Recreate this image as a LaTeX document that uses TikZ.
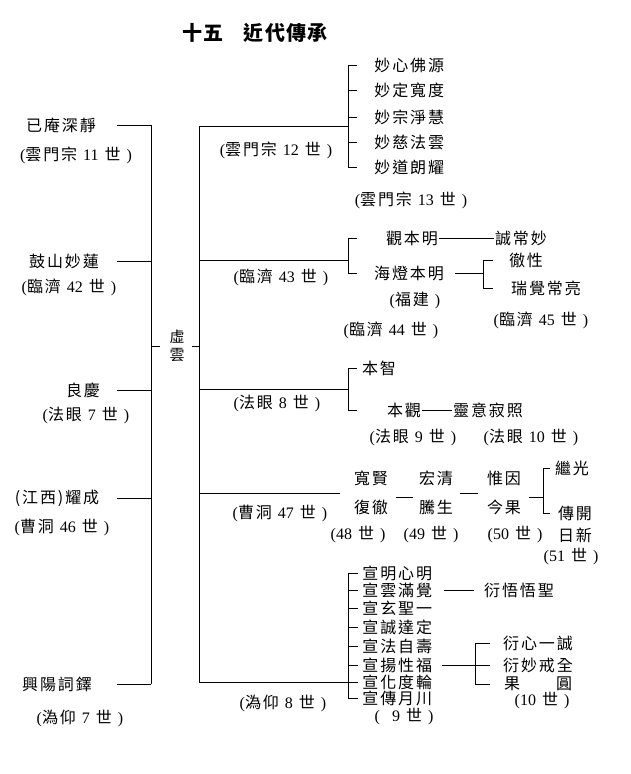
\documentclass[tikz,border=0pt]{standalone}
\usepackage{fontspec}
\setmainfont{Liberation Serif}
\newfontfamily\cjk{Noto Sans CJK TC}[LetterSpace=12]
\newfontfamily\cjt{Noto Sans CJK TC}[LetterSpace=6]
\newcommand\nm{\fontsize{16}{17}\selectfont\cjk}
\newcommand\sm{\fontsize{16}{18}\selectfont\spaceskip=6pt\relax}

\begin{document}
\begin{tikzpicture}[x=1pt, y=-1pt, line width=.7pt,
  nm/.style={font=\nm, inner sep=1pt},
  gn/.style={font=\sm, inner sep=1pt}]
\useasboundingbox (0,0) rectangle (630,774);
\node[font=\fontsize{20}{22}\selectfont\cjt\bfseries, inner sep=1pt] (title) at (255,33) {十五\hspace{20pt}近代傳承};

\coordinate (la) at (117,0);
\coordinate (lb) at (151,0);
\coordinate (lc) at (160,0);
\coordinate (rc) at (192,0);
\coordinate (rb) at (199,0);
\coordinate (t1) at (357,0);

\node[nm] (l1) at (61,125) {已庵深靜};
\node[gn] (g1) at (76,155) {({\cjk 雲門宗} 11 {\cjk 世} )};
\node[nm] (l2) at (64,261) {鼓山妙蓮};
\node[gn] (g2) at (69,287) {({\cjk 臨濟} 42 {\cjk 世} )};
\node[nm] (l3) at (83,390) {良慶};
\node[gn] (g3) at (86,415) {({\cjk 法眼} 7 {\cjk 世} )};
\node[nm] (l4) at (57,498) {(江西)耀成};
\node[gn] (g4) at (62,527) {({\cjk 曹洞} 46 {\cjk 世} )};
\node[nm] (l5) at (57,684) {興陽詞鐸};
\node[gn] (g5) at (80,718) {({\cjk 溈仰} 7 {\cjk 世} )};
\node[font=\fontsize{15}{18}\selectfont\cjk, align=center, inner sep=1pt] (x) at (177,346) {虛\\雲};

\draw (l1 -| la) -- (l1 -| lb);
\draw (l2 -| la) -- (l2 -| lb);
\draw (l3 -| la) -- (l3 -| lb);
\draw (l4 -| la) -- (l4 -| lb);
\draw (l5 -| la) -- (l5 -| lb);
\draw (l1 -| lb) -- (l5 -| lb);
\draw (x -| lb) -- (x -| lc);
\draw (x -| rc) -- (x -| rb);

\coordinate (b1) at (348,126);
\node[nm, anchor=west] (m1) at (373,65) {妙心佛源};
\node[nm, anchor=west] (m2) at (373,90) {妙定寬度};
\node[nm, anchor=west] (m3) at (373,117) {妙宗淨慧};
\node[nm, anchor=west] (m4) at (373,142) {妙慈法雲};
\node[nm, anchor=west] (m5) at (373,167) {妙道朗耀};
\node[gn] (g6) at (276,150) {({\cjk 雲門宗} 12 {\cjk 世} )};
\node[gn] (g7) at (411,200) {({\cjk 雲門宗} 13 {\cjk 世} )};
\draw (b1 -| rb) -- (b1);
\draw (m1 -| b1) -- (m5 -| b1);
\draw (m1 -| b1) -- (m1 -| t1);
\draw (m2 -| b1) -- (m2 -| t1);
\draw (m3 -| b1) -- (m3 -| t1);
\draw (m4 -| b1) -- (m4 -| t1);
\draw (m5 -| b1) -- (m5 -| t1);

\coordinate (b2) at (348,260);
\coordinate (c2) at (483,0);
\coordinate (c2t) at (493,0);
\node[nm] (k1) at (412,238) {觀本明};
\node[nm] (k2) at (409,273) {海燈本明};
\node[nm] (k3) at (521,238) {誠常妙};
\node[nm] (k4) at (526,260) {徹性};
\node[nm] (k5) at (546,288) {瑞覺常亮};
\node[gn] (g8) at (281,277) {({\cjk 臨濟} 43 {\cjk 世} )};
\node[gn] (g9) at (415,300) {({\cjk 福建} )};
\node[gn] (g10) at (391,330) {({\cjk 臨濟} 44 {\cjk 世} )};
\node[gn] (g11) at (541,320) {({\cjk 臨濟} 45 {\cjk 世} )};
\draw (b2 -| rb) -- (b2);
\draw (k1 -| b2) -- (k2 -| b2);
\draw (k1 -| b2) -- (k1 -| t1);
\draw (k2 -| b2) -- (k2 -| t1);
\draw (k1) -- (k3);
\draw[shorten <=10pt] (k2) -- (k2 -| c2);
\draw (k4 -| c2) -- (k5 -| c2);
\draw (k4 -| c2) -- (k4 -| c2t);
\draw (k5 -| c2) -- (k5 -| c2t);

\coordinate (b3) at (348,389);
\node[nm] (p1) at (379,368) {本智};
\node[nm] (p2) at (404,410) {本觀};
\node[nm] (p3) at (488,410) {靈意寂照};
\node[gn] (g12) at (277,403) {({\cjk 法眼} 8 {\cjk 世} )};
\node[gn] (g13) at (413,437) {({\cjk 法眼} 9 {\cjk 世} )};
\node[gn] (g14) at (531,437) {({\cjk 法眼} 10 {\cjk 世} )};
\draw (b3 -| rb) -- (b3);
\draw (p1 -| b3) -- (p2 -| b3);
\draw (p1 -| b3) -- (p1 -| t1);
\draw (p2 -| b3) -- (p2 -| t1);
\draw (p2) -- (p3);

\coordinate (b4) at (340,493);
\coordinate (d4) at (0,497);
\coordinate (c4) at (543,0);
\coordinate (c4t) at (550,0);
\node[nm] (q1) at (371,478) {寬賢};
\node[nm] (q2) at (371,507) {復徹};
\node[nm] (q3) at (436,478) {宏清};
\node[nm] (q4) at (436,507) {騰生};
\node[nm] (q5) at (504,478) {惟因};
\node[nm] (q6) at (504,507) {今果};
\node[nm] (q7) at (572,468) {繼光};
\node[nm] (q8) at (575,513) {傳開};
\node[nm] (q9) at (575,535) {日新};
\node[gn] (g15) at (280,513) {({\cjk 曹洞} 47 {\cjk 世} )};
\node[gn] (g16) at (358,535) {(48 {\cjk 世} )};
\node[gn] (g17) at (431,535) {(49 {\cjk 世} )};
\node[gn] (g18) at (515,535) {(50 {\cjk 世} )};
\node[gn] (g19) at (571,557) {(51 {\cjk 世} )};
\draw (b4 -| rb) -- (b4);
\draw[shorten <=7pt, shorten >=5pt] (q2.east |- d4) -- (q4.west |- d4);
\draw[shorten <=6pt, shorten >=8pt] (q4.east |- b4) -- (q6.west |- b4);
\draw[shorten <=7pt] (q6.east |- d4) -- (d4 -| c4);
\draw (q7 -| c4) -- (q8 -| c4);
\draw (q7 -| c4) -- (q7 -| c4t);
\draw (q8 -| c4) -- (q8 -| c4t);

\coordinate (b5) at (348,682);
\coordinate (t5) at (358,0);
\coordinate (c5) at (475,0);
\coordinate (c5t) at (490,0);
\node[nm, anchor=west] (w1) at (361,573) {宣明心明};
\node[nm, anchor=west] (w2) at (361,590) {宣雲滿覺};
\node[nm, anchor=west] (w3) at (361,608) {宣玄聖一};
\node[nm, anchor=west] (w4) at (361,627) {宣誠達定};
\node[nm, anchor=west] (w5) at (361,646) {宣法自壽};
\node[nm, anchor=west] (w6) at (361,665) {宣揚性福};
\node[nm, anchor=west] (w7) at (361,682) {宣化度輪};
\node[nm, anchor=west] (w8) at (361,698) {宣傳月川};
\node[nm] (v1) at (519,590) {衍悟悟聖};
\node[nm] (v2) at (538,643) {衍心一誠};
\node[nm] (v3) at (538,665) {衍妙戒全};
\node[nm] (v4) at (538,684) {果\hspace{36pt}圓};
\node[gn] (g20) at (283,703) {({\cjk 溈仰} 8 {\cjk 世} )};
\node[gn] (g21) at (404,717) {(\hspace{12pt}9 {\cjk 世} )};
\node[gn] (g22) at (542,701) {(10 {\cjk 世} )};
\draw (b5 -| rb) -- (b5);
\draw (w1 -| b5) -- (w8 -| b5);
\draw (w1 -| b5) -- (w1 -| t5);
\draw (w2 -| b5) -- (w2 -| t5);
\draw (w3 -| b5) -- (w3 -| t5);
\draw (w4 -| b5) -- (w4 -| t5);
\draw (w5 -| b5) -- (w5 -| t5);
\draw (w6 -| b5) -- (w6 -| t5);
\draw (w7 -| b5) -- (w7 -| t5);
\draw (w8 -| b5) -- (w8 -| t5);
\draw (b1 -| rb) -- (b5 -| rb);
\draw[shorten <=11pt, shorten >=9pt] (w2) -- (v1);
\draw[shorten <=9pt] (w6) -- (w6 -| c5);
\draw (v2 -| c5) -- (v4 -| c5);
\draw (v2 -| c5) -- (v2 -| c5t);
\draw (v3 -| c5) -- (v3 -| c5t);
\draw (v4 -| c5) -- (v4 -| c5t);
\end{tikzpicture}
\end{document}
